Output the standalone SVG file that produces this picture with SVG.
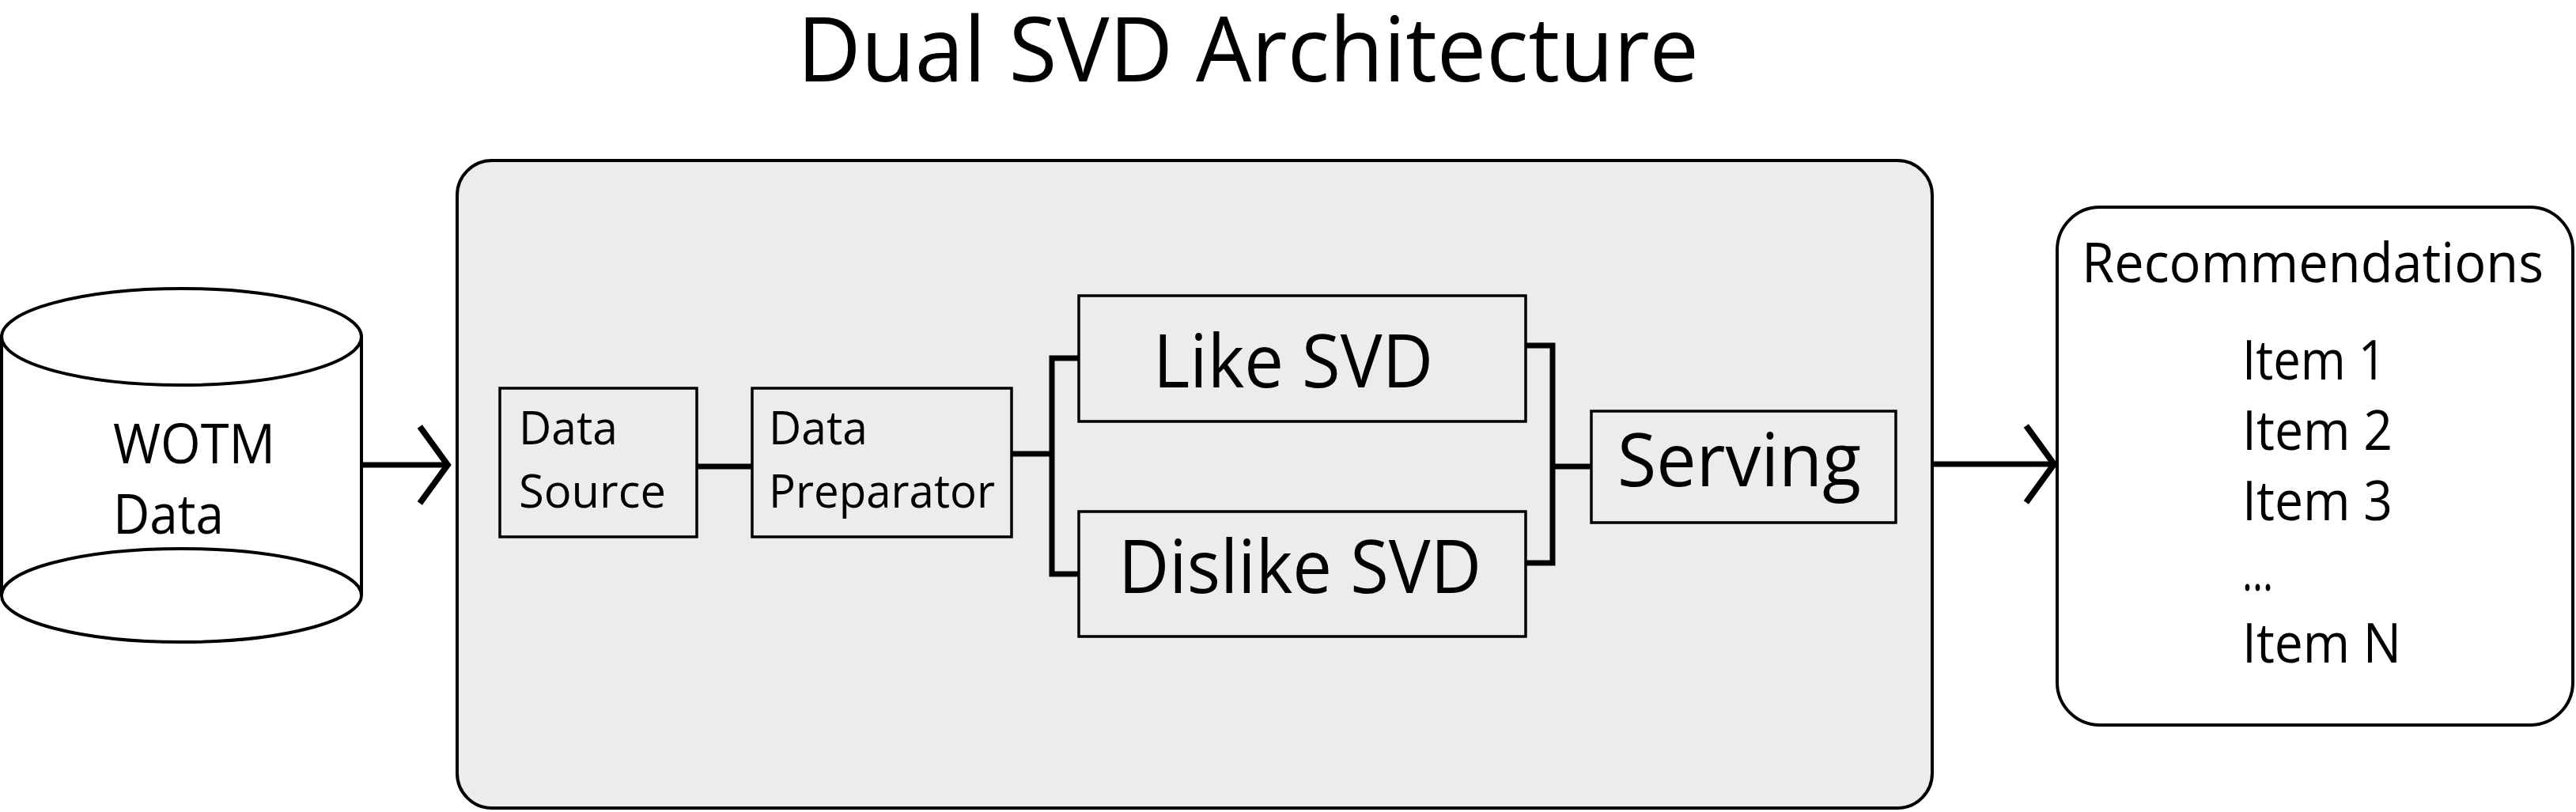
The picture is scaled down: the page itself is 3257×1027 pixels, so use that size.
<svg xmlns="http://www.w3.org/2000/svg" width="3257" height="1027" viewBox="0 0 3257 1027">
  <defs>
    <style>
      text { font-family: "Open Sans", "Noto Sans", "Liberation Sans", sans-serif; fill: #000; }
      .title { font-size: 113px; }
      .lbl70 { font-size: 70px; }
      .lbl59 { font-size: 59px; }
      .lbl94 { font-size: 94px; }
      .box { fill: #ececec; stroke: #000; stroke-width: 3.5; }
      .conn { fill: none; stroke: #000; stroke-width: 7; }
      .cyl { fill: #fff; stroke: #000; stroke-width: 4; }
    </style>
    <marker id="chev" markerUnits="userSpaceOnUse" markerWidth="60" markerHeight="110" viewBox="-40 -50 50 100" refX="0" refY="0" orient="auto" overflow="visible">
      <path d="M -32,-44 L 0,0 L -32,44" fill="none" stroke="#000" stroke-width="7" stroke-linejoin="miter"/>
    </marker>
  </defs>

  <rect width="3257" height="1027" fill="#fff"/>

  <g id="title">
    <text class="title" x="1008" y="103" textLength="1140" lengthAdjust="spacingAndGlyphs">Dual SVD Architecture</text>
  </g>

  <g id="wotm-data">
    <path class="cyl" d="M 2,426 L 2,753 A 227.5,59 0 0 0 457,753 L 457,426 Z"/>
    <ellipse class="cyl" cx="229.5" cy="426" rx="227.5" ry="61"/>
    <path d="M 2,753 A 227.5,59 0 0 1 457,753" fill="none" stroke="#000" stroke-width="4"/>
    <text class="lbl70" x="143" y="586" textLength="205" lengthAdjust="spacingAndGlyphs">WOTM</text>
    <text class="lbl70" x="143" y="675" textLength="140" lengthAdjust="spacingAndGlyphs">Data</text>
  </g>

  <g id="architecture">
    <rect x="578" y="203" width="1865" height="819" rx="44" ry="44" fill="#ececec" stroke="#000" stroke-width="4"/>
  </g>

  <g id="data-source">
    <rect class="box" x="632" y="491" width="249" height="188"/>
    <text class="lbl59" x="656" y="562" textLength="125" lengthAdjust="spacingAndGlyphs">Data</text>
    <text class="lbl59" x="656" y="642" textLength="186" lengthAdjust="spacingAndGlyphs">Source</text>
  </g>

  <g id="data-preparator">
    <rect class="box" x="951" y="491" width="328" height="188"/>
    <text class="lbl59" x="972" y="562" textLength="125" lengthAdjust="spacingAndGlyphs">Data</text>
    <text class="lbl59" x="972" y="642" textLength="286" lengthAdjust="spacingAndGlyphs">Preparator</text>
  </g>

  <g id="like-svd">
    <rect class="box" x="1364" y="374" width="565" height="159"/>
    <text class="lbl94" x="1458" y="490" textLength="354" lengthAdjust="spacingAndGlyphs">Like SVD</text>
  </g>

  <g id="dislike-svd">
    <rect class="box" x="1364" y="647" width="565" height="158"/>
    <text class="lbl94" x="1414" y="750" textLength="459" lengthAdjust="spacingAndGlyphs">Dislike SVD</text>
  </g>

  <g id="serving">
    <rect class="box" x="2012" y="520" width="385" height="141"/>
    <text class="lbl94" x="2045" y="615" textLength="308" lengthAdjust="spacingAndGlyphs">Serving</text>
  </g>

  <g id="recommendations">
    <rect x="2601" y="262" width="652" height="655" rx="54" ry="54" fill="#fff" stroke="#000" stroke-width="4"/>
    <text class="lbl70" x="2632" y="357" textLength="584" lengthAdjust="spacingAndGlyphs">Recommendations</text>
    <text class="lbl70" x="2835" y="480" textLength="182" lengthAdjust="spacingAndGlyphs">Item 1</text>
    <text class="lbl70" x="2835" y="569" textLength="190" lengthAdjust="spacingAndGlyphs">Item 2</text>
    <text class="lbl70" x="2835" y="658" textLength="190" lengthAdjust="spacingAndGlyphs">Item 3</text>
    <text class="lbl70" x="2835" y="747" textLength="39" lengthAdjust="spacingAndGlyphs">...</text>
    <text class="lbl70" x="2835" y="838" textLength="201" lengthAdjust="spacingAndGlyphs">Item N</text>
  </g>

  <g id="connectors">
    <line class="conn" x1="455" y1="588" x2="566" y2="588" marker-end="url(#chev)"/>
    <line class="conn" x1="881" y1="590" x2="951" y2="590"/>
    <line class="conn" x1="1279" y1="574" x2="1330" y2="574"/>
    <path class="conn" d="M 1364,453 L 1330,453 L 1330,726 L 1364,726"/>
    <path class="conn" d="M 1929,437 L 1963,437 L 1963,712 L 1929,712"/>
    <line class="conn" x1="1963" y1="590" x2="2012" y2="590"/>
    <line class="conn" x1="2445" y1="587" x2="2597" y2="587" marker-end="url(#chev)"/>
  </g>
</svg>
